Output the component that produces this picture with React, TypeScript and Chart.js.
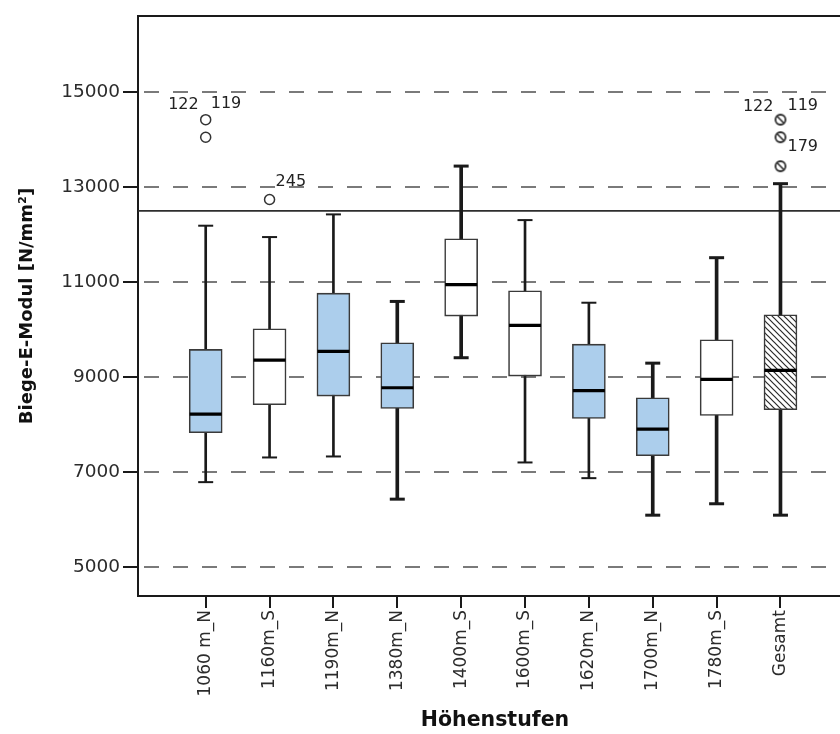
import React, { useEffect, useRef } from 'react';
import { Chart, registerables } from 'chart.js';

Chart.register(...registerables);

// ---- data ----
const categories = ['1060 m_N', '1160m_S', '1190m_N', '1380m_N', '1400m_S', '1600m_S', '1620m_N', '1700m_N', '1780m_S', 'Gesamt'];
const whiskerLow = [6795, 7314, 7335, 6437, 9412, 7209, 6879, 6100, 6340, 6100];
const quartile1 = [7834, 8423, 8604, 8345, 10288, 9025, 8135, 7350, 8198, 8318];
const medians = [8225, 9362, 9545, 8780, 10948, 10092, 8718, 7910, 8955, 9145];
const quartile3 = [9587, 10022, 10771, 9727, 11915, 10821, 9698, 8570, 9790, 10316];
const whiskerHigh = [12189, 11950, 12427, 10596, 13443, 12307, 10569, 9298, 11516, 13073];

const outlierCategory = [0, 0, 1, 9, 9, 9];
const outlierValues = [14420, 14050, 12740, 14420, 14050, 13440];
const outlierIds = ['122', '119', '245', '122', '119', '179'];

const referenceValue = 12500;
const yTickValues = [5000, 7000, 9000, 11000, 13000, 15000];
const yMin = 4400;
const yMax = 16600;

// ---- styles ----
const BLUE = 'rgb(172,206,236)';
const INK = '#1a1a1a';
const heavyWhisker = [false, false, false, true, true, false, false, true, true, true];
const labelPlacement = [
  { align: 'right', dx: -7, dy: -15 },
  { align: 'left', dx: 5, dy: -33 },
  { align: 'left', dx: 6, dy: -18 },
  { align: 'right', dx: -7, dy: -13 },
  { align: 'left', dx: 7, dy: -31 },
  { align: 'left', dx: 7, dy: -19 },
];
const X_MIN = -1.06;
const X_MAX = 10.12;

function makeHatch(): CanvasPattern | string {
  const s = 6;
  const c = document.createElement('canvas');
  c.width = s;
  c.height = s;
  const g = c.getContext('2d');
  if (!g) return '#fff';
  g.fillStyle = '#ffffff';
  g.fillRect(0, 0, s, s);
  g.strokeStyle = '#2a2a2a';
  g.lineWidth = 1.2;
  g.beginPath();
  g.moveTo(0, 0);
  g.lineTo(s, s);
  g.moveTo(-2, s - 2);
  g.lineTo(2, s + 2);
  g.moveTo(s - 2, -2);
  g.lineTo(s + 2, 2);
  g.stroke();
  return g.createPattern(c, 'repeat') || '#fff';
}

function makeHatchedCircle(): HTMLCanvasElement {
  const s = 14;
  const c = document.createElement('canvas');
  c.width = s;
  c.height = s;
  const g = c.getContext('2d');
  if (g) {
    const r = 5;
    g.strokeStyle = '#2a2a2a';
    g.lineWidth = 1.8;
    g.beginPath();
    g.arc(s / 2, s / 2, r, 0, Math.PI * 2);
    g.stroke();
    g.lineWidth = 1.6;
    g.beginPath();
    g.moveTo(s / 2 - 3.2, s / 2 - 3.2);
    g.lineTo(s / 2 + 3.2, s / 2 + 3.2);
    g.stroke();
  }
  return c;
}

const outlierLabelPlugin = {
  id: 'outlierLabels',
  afterDatasetsDraw(chart: any) {
    const idx = chart.data.datasets.findIndex((d: any) => d.label === 'outliers');
    if (idx < 0) return;
    const meta = chart.getDatasetMeta(idx);
    const ctx = chart.ctx;
    ctx.save();
    ctx.font = '16px "DejaVu Sans"';
    ctx.fillStyle = '#222';
    ctx.textBaseline = 'middle';
    meta.data.forEach((pt: any, k: number) => {
      const p = labelPlacement[k];
      ctx.textAlign = p.align;
      ctx.fillText(outlierIds[k], pt.x + p.dx, pt.y + p.dy);
    });
    ctx.restore();
  },
};

export default function App() {
  const ref = useRef<HTMLCanvasElement | null>(null);

  useEffect(() => {
    if (!ref.current) return;
    const hatch = makeHatch();
    const hatchedCircle = makeHatchedCircle();
    const boxFill = categories.map((c) => (c === 'Gesamt' ? hatch : c.endsWith('_N') ? BLUE : '#ffffff'));

    const idx = categories.map((_, i) => i);
    const thinIdx = idx.filter((i) => !heavyWhisker[i]);
    const heavyIdx = idx.filter((i) => heavyWhisker[i]);

    const capPoints: { x: number; y: number }[] = [];
    const capWidths: number[] = [];
    idx.forEach((i) => {
      capPoints.push({ x: i, y: whiskerLow[i] });
      capPoints.push({ x: i, y: whiskerHigh[i] });
      const w = heavyWhisker[i] ? 3 : 2;
      capWidths.push(w, w);
    });

    const chart = new Chart(ref.current, {
      type: 'bar',
      data: {
        datasets: [
          {
            type: 'line',
            label: 'reference',
            data: [
              { x: X_MIN, y: referenceValue },
              { x: X_MAX, y: referenceValue },
            ],
            borderColor: '#2e2e2e',
            borderWidth: 1.8,
            pointRadius: 0,
            order: 20,
          } as any,
          {
            type: 'bar',
            label: 'stemsThin',
            data: thinIdx.map((i) => ({ x: i, y: [whiskerLow[i], whiskerHigh[i]] })),
            backgroundColor: INK,
            borderWidth: 0,
            barThickness: 2,
            grouped: false,
            order: 15,
          } as any,
          {
            type: 'bar',
            label: 'stemsHeavy',
            data: heavyIdx.map((i) => ({ x: i, y: [whiskerLow[i], whiskerHigh[i]] })),
            backgroundColor: INK,
            borderWidth: 0,
            barThickness: 3,
            grouped: false,
            order: 15,
          } as any,
          {
            type: 'bar',
            label: 'boxes',
            data: idx.map((i) => ({ x: i, y: [quartile1[i], quartile3[i]] })),
            backgroundColor: boxFill,
            borderColor: '#3a3a3a',
            borderWidth: 1.6,
            borderSkipped: false,
            barThickness: 33,
            grouped: false,
            order: 10,
          } as any,
          {
            type: 'scatter',
            label: 'caps',
            data: capPoints,
            pointStyle: 'line',
            pointRadius: 7.5,
            pointBorderWidth: capWidths,
            pointBorderColor: INK,
            order: 5,
          } as any,
          {
            type: 'scatter',
            label: 'medians',
            data: idx.map((i) => ({ x: i, y: medians[i] })),
            pointStyle: 'line',
            pointRadius: 16,
            pointBorderWidth: 3.2,
            pointBorderColor: '#000',
            order: 4,
          } as any,
          {
            type: 'scatter',
            label: 'outliers',
            data: outlierValues.map((v, k) => ({ x: outlierCategory[k], y: v })),
            pointStyle: outlierCategory.map((c) => (categories[c] === 'Gesamt' ? hatchedCircle : 'circle')),
            pointRadius: 5,
            pointBorderWidth: 1.5,
            pointBorderColor: '#333',
            pointBackgroundColor: 'rgba(255,255,255,0)',
            order: 3,
          } as any,
        ],
      },
      options: {
        animation: false,
        responsive: false,
        maintainAspectRatio: false,
        events: [],
        layout: { autoPadding: false, padding: { top: 16, left: 0, right: 0, bottom: 0 } },
        plugins: {
          legend: { display: false },
          tooltip: { enabled: false },
        },
        scales: {
          x: {
            type: 'linear',
            min: X_MIN,
            max: X_MAX,
            offset: false,
            afterBuildTicks: (s: any) => {
              s.ticks = categories.map((_, i) => ({ value: i }));
            },
            afterFit: (s: any) => {
              s.height = 138;
              s.paddingLeft = 0;
              s.paddingRight = 0;
              s.paddingTop = 0;
              s.paddingBottom = 0;
            },
            grid: {
              display: true,
              drawOnChartArea: false,
              offset: false,
              color: INK,
              lineWidth: 2,
              tickLength: 12,
              tickColor: INK,
              tickWidth: 2,
            },
            border: { display: true, color: INK, width: 2 },
            ticks: {
              autoSkip: false,
              maxRotation: 90,
              minRotation: 90,
              padding: 2,
              color: '#2b2b2b',
              font: { family: 'DejaVu Sans', size: 17 },
              callback: (v: any) => categories[Math.round(Number(v))] ?? '',
            },
            title: {
              display: true,
              text: 'Höhenstufen',
              color: '#111',
              font: { family: 'DejaVu Sans', size: 20.5, weight: 'bold' },
              padding: { top: 0, bottom: 1 },
            },
          },
          xTop: {
            type: 'linear',
            position: 'top',
            display: true,
            min: 0,
            max: 1,
            afterFit: (s: any) => {
              s.height = 0;
              s.paddingLeft = 0;
              s.paddingRight = 0;
              s.paddingTop = 0;
              s.paddingBottom = 0;
            },
            grid: { display: false, drawTicks: false },
            ticks: { display: false },
            border: { display: true, color: INK, width: 2 },
          },
          y: {
            type: 'linear',
            min: yMin,
            max: yMax,
            afterBuildTicks: (s: any) => {
              s.ticks = yTickValues.map((v) => ({ value: v }));
            },
            afterFit: (s: any) => {
              s.width = 138;
              s.paddingLeft = 0;
              s.paddingRight = 0;
              s.paddingTop = 0;
              s.paddingBottom = 0;
            },
            grid: {
              display: true,
              drawOnChartArea: true,
              color: '#7a7a7a',
              lineWidth: 2,
              tickLength: 15,
              tickColor: INK,
              tickWidth: 2,
              tickBorderDash: [],
            },
            border: { display: true, color: INK, width: 2, dash: [15, 14], dashOffset: -5 },
            ticks: {
              padding: 3,
              color: '#2b2b2b',
              font: { family: 'DejaVu Sans', size: 18.5 },
              callback: (v: any) => String(v),
            },
            title: {
              display: true,
              text: 'Biege-E-Modul [N/mm²]',
              color: '#111',
              font: { family: 'DejaVu Sans', size: 18, weight: 'bold' },
              padding: { top: 17, bottom: 0 },
            },
          },
        },
      } as any,
      plugins: [outlierLabelPlugin],
    });

    return () => chart.destroy();
  }, []);

  return (
    <div
      style={{
        position: 'absolute',
        left: 0,
        top: 0,
        width: 840,
        height: 734,
        overflow: 'hidden',
        background: '#ffffff',
      }}
    >
      <canvas ref={ref} width={852} height={734} style={{ display: 'block', width: 852, height: 734 }} />
    </div>
  );
}
